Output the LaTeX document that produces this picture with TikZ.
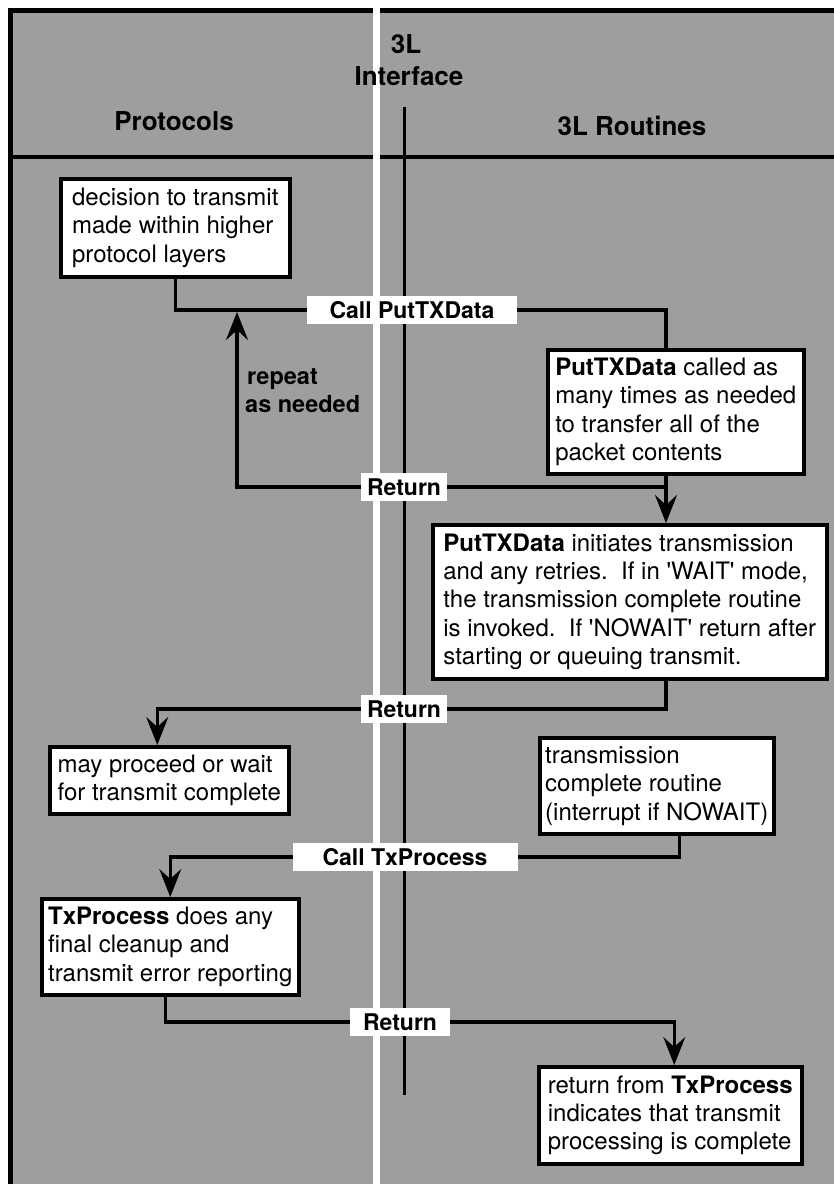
\documentclass[tikz,border=0pt]{standalone}
\usepackage{fontspec}
\setmainfont{TeX Gyre Heros}
\usetikzlibrary{arrows.meta}
\pgfdeclarelayer{back}
\pgfdeclarelayer{wires}
\pgfsetlayers{back,wires,main}
\definecolor{halftone}{gray}{0.62}
\begin{document}
\begin{tikzpicture}[x=1pt,y=-1pt,
  box/.style={draw, line width=3.5pt, fill=white, anchor=north west, align=left,
    inner xsep=4pt, inner ysep=2pt, font=\fontsize{24}{28.4}\selectfont},
  tag/.style={fill=white, inner xsep=0pt, inner ysep=6pt, text height=16.5pt, text depth=0pt,
    font=\bfseries\fontsize{23}{27}\selectfont},
  head/.style={anchor=base, font=\bfseries\fontsize{26}{30}\selectfont},
  note/.style={anchor=base west, inner sep=0pt, font=\bfseries\fontsize{23.5}{28}\selectfont},
  wire/.style={line width=3.3pt},
  flow/.style={wire, -{Stealth[length=28pt,width=22pt,inset=10pt]}},
  frame/.style={line width=5pt},
]
\useasboundingbox (0,0) rectangle (834,1184);

% paper, shading and frame
\begin{pgfonlayer}{back}
  \fill[white] (0,0) rectangle (834,1184);
  \fill[halftone] (10,10) rectangle (834,1184);
  \draw[frame] (10,1184) -- (10,10) -- (834,10);
  \draw[line width=4.5pt] (10,157) -- (834,157);
  \fill[white] (373,0) rectangle (380,1184);
\end{pgfonlayer}

% column headings
\node[head] (hint1) at (406,53) {3L};
\node[head] (hint2) at (409,85) {Interface};
\node[head] (hprot) at (174,130) {Protocols};
\node[head] (hrout) at (632,135) {3L Routines};

% interface boundary
\coordinate (itop) at (404,107);
\coordinate (ibot) at (404,1095);

% process boxes
\node[box, minimum width=229pt, minimum height=98pt] (b1) at (59,177)
  {decision to transmit\\made within higher\\protocol layers};
\node[box, minimum width=256pt, minimum height=124pt] (b2) at (546,348)
  {\textbf{PutTXData} called as\\many times as needed\\to transfer all of the\\packet contents};
\node[box, minimum width=394pt, minimum height=154pt] (b3) at (431,523)
  {\textbf{PutTXData} initiates transmission\\and any retries.\ \ If in \textquotesingle WAIT\textquotesingle\ mode,\\the transmission complete routine\\is invoked.\ \ If \textquotesingle NOWAIT\textquotesingle\ return after\\starting or queuing transmit.};
\node[box, minimum width=239pt, minimum height=67pt] (b4) at (48,745)
  {may proceed or wait\\for transmit complete};
\node[box, minimum width=234pt, minimum height=96pt] (b5) at (538,736)
  {transmission\\complete routine\\(interrupt if NOWAIT)};
\node[box, minimum width=257pt, minimum height=96pt] (b6) at (40,897)
  {\textbf{TxProcess} does any\\final cleanup and\\transmit error reporting};
\node[box, minimum width=263pt, minimum height=97pt] (b7) at (537,1065)
  {return from \textbf{TxProcess}\\indicates that transmit\\processing is complete};

% call / return labels on the interface
\node[tag, minimum width=210pt] (call1) at (412,310) {Call PutTXData};
\node[tag, minimum width=86pt] (ret1) at (404,487) {Return};
\node[tag, minimum width=86pt] (ret2) at (404,709) {Return};
\node[tag, minimum width=225pt] (call2) at (405,857) {Call TxProcess};
\node[tag, minimum width=100pt] (ret3) at (400,1022) {Return};

\node[note] (rep1) at (247,384) {repeat};
\node[note] (rep2) at (245,412) {as needed};

\coordinate (rx) at (666,0);
\coordinate (rtip) at (237,312);

% connectors
\begin{pgfonlayer}{wires}
  \draw[line width=3pt] (itop) -- (ibot);
  \draw[flow] (b1.south) |- (call1.center) -| (b2.south -| rx);
  \draw[flow] (b2.south -| rx) |- (ret1.center) -| (rtip);
  \draw[flow] (b2.south -| rx) -- (b3.north -| rx);
  \draw[flow] (b3.south -| rx) |- (ret2.center) -| ([xshift=-12pt]b4.north);
  \draw[flow] ([xshift=23pt]b5.south) |- (call2.center) -| (b6.north);
  \draw[flow] ([xshift=-5pt]b6.south) |- (ret3.center) -| ([xshift=4pt]b7.north);
\end{pgfonlayer}
\end{tikzpicture}
\end{document}
